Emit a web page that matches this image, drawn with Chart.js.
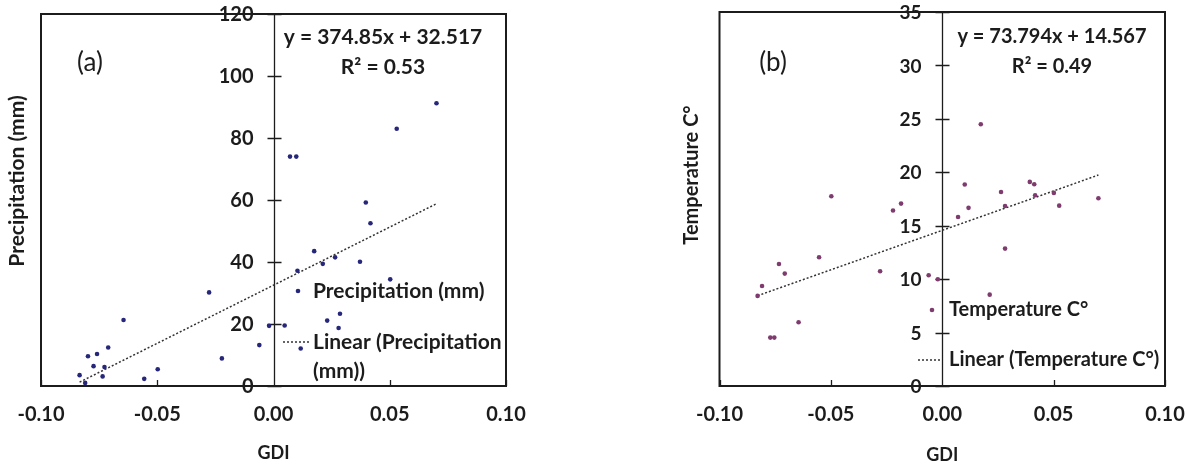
<!DOCTYPE html>
<html>
<head>
<meta charset="utf-8">
<script src="https://cdn.jsdelivr.net/npm/chart.js@4/dist/chart.umd.min.js"></script>
<style>
  html, body { margin: 0; padding: 0; background: #ffffff; }
  body { width: 1187px; height: 466px; position: relative; overflow: hidden; }
  .panel { position: absolute; top: 0; }
  #wrapA { left: 0; width: 600px; height: 466px; }
  #wrapB { left: 600px; width: 640px; height: 466px; }
</style>
</head>
<body>
<div class="panel" id="wrapA"><canvas id="chartA" width="600" height="466"></canvas></div>
<div class="panel" id="wrapB"><canvas id="chartB" width="640" height="466"></canvas></div>
<script>
// ---- data ----
const gdiTicks = [-0.10, -0.05, 0.00, 0.05, 0.10];
const precipTicks = [0, 20, 40, 60, 80, 100, 120];
const tempTicks = [0, 5, 10, 15, 20, 25, 30, 35];

// (a) GDI vs precipitation
const gdiPrecip = [0.0701, 0.0530, 0.0071, 0.0098, 0.0397, 0.0417, 0.0175, 0.0212, 0.0265, 0.0372,
                   0.0103, 0.0502, 0.0286, 0.0231, 0.0280, 0.0048, -0.0019, -0.0061, 0.0117, -0.0277,
                   -0.0645, -0.0222, -0.0498, -0.0556, -0.0711, -0.0759, -0.0798, -0.0774, -0.0727, -0.0735,
                   -0.0834, -0.0810];
const precipMm = [91.2, 83.0, 74.0, 74.0, 59.2, 52.5, 43.5, 39.4, 41.5, 40.1,
                  37.2, 34.4, 23.3, 21.1, 18.7, 19.5, 19.4, 13.2, 12.1, 30.2,
                  21.3, 8.9, 5.4, 2.3, 12.4, 10.3, 9.6, 6.4, 6.1, 3.1,
                  3.5, 1.0];
const precipFit = { slope: 374.85, intercept: 32.517, r2: 0.53 };

// (b) GDI vs temperature
const gdiTemp = [0.0173, 0.0101, 0.0264, 0.0393, 0.0413, 0.0417, 0.0501, 0.0525, 0.0701, 0.0282,
                 0.0118, 0.0071, 0.0282, 0.0213, -0.0020, -0.0061, -0.0185, -0.0221, -0.0279, -0.0498,
                 -0.0553, -0.0733, -0.0707, -0.0809, -0.0829, -0.0645, -0.0772, -0.0754];
const tempC = [24.5, 18.85, 18.16, 19.1, 18.88, 17.85, 18.07, 16.88, 17.57, 16.85,
               16.67, 15.82, 12.86, 8.55, 9.99, 10.36, 17.07, 16.42, 10.74, 17.76,
               12.05, 11.42, 10.52, 9.36, 8.43, 5.96, 4.53, 4.53];
const tempFit = { slope: 73.794, intercept: 14.567, r2: 0.49 };

// ---- styling ----
const FONT = 'Lato, "Open Sans", "Liberation Sans", sans-serif';
const INK = '#1c1c1c';

function fmtGdi(v) {
  if (Math.abs(v) < 1e-9) return '0.00';
  return v.toFixed(2);
}

function fitLine(xs, fit) {
  const lo = Math.min(...xs), hi = Math.max(...xs);
  return [lo, hi].map(x => ({ x: x, y: fit.slope * x + fit.intercept }));
}

// frame, value axis through GDI = 0, annotations and legend
const panelDecor = {
  id: 'panelDecor',
  beforeDatasetsDraw(chart, args, o) {
    const { ctx, chartArea: a, scales: { x, y } } = chart;
    ctx.save();
    ctx.strokeStyle = INK;
    // outer box
    ctx.lineWidth = 2;
    ctx.strokeRect(a.left, a.top, a.right - a.left, a.bottom - a.top);
    // vertical axis at GDI = 0 with crossing ticks
    const x0 = Math.round(x.getPixelForValue(0)) + 0.5;
    ctx.lineWidth = 1.3;
    ctx.beginPath();
    ctx.moveTo(x0, a.top);
    ctx.lineTo(x0, a.bottom);
    y.ticks.forEach(t => {
      const py = Math.round(y.getPixelForValue(t.value)) + 0.5;
      ctx.moveTo(x0 - 7, py);
      ctx.lineTo(x0 + 7, py);
    });
    // x ticks pointing inwards from the bottom
    x.ticks.forEach(t => {
      const px = Math.round(x.getPixelForValue(t.value)) + 0.5;
      ctx.moveTo(px, a.bottom);
      ctx.lineTo(px, a.bottom - 6);
    });
    ctx.stroke();
    // value labels, right-aligned against the axis
    ctx.fillStyle = INK;
    ctx.font = '700 ' + o.tickSize + 'px ' + FONT;
    ctx.textAlign = 'right';
    ctx.textBaseline = 'middle';
    y.ticks.forEach(t => {
      ctx.fillText(String(t.value), x0 - 21, y.getPixelForValue(t.value) + 1);
    });
    ctx.restore();
  },
  afterDraw(chart, args, o) {
    const { ctx } = chart;
    ctx.save();
    ctx.fillStyle = INK;
    ctx.textBaseline = 'middle';
    // panel tag
    ctx.font = '400 26px ' + FONT;
    ctx.textAlign = 'center';
    ctx.fillText(o.tag, o.tagPos[0], o.tagPos[1]);
    // regression equation
    ctx.font = '700 ' + o.textSize + 'px ' + FONT;
    ctx.fillText(o.equation, o.eqPos[0], o.eqPos[1]);
    ctx.fillText(o.rsq, o.eqPos[0], o.eqPos[1] + 30);
    // y axis title
    ctx.save();
    ctx.translate(o.yTitlePos[0], o.yTitlePos[1]);
    ctx.rotate(-Math.PI / 2);
    ctx.fillText(o.yTitle, 0, 0);
    ctx.restore();
    // legend
    const L = o.legend;
    ctx.textAlign = 'left';
    ctx.fillStyle = o.pointColor;
    ctx.beginPath();
    ctx.arc(L.markX, L.row1, 2.3, 0, Math.PI * 2);
    ctx.fill();
    ctx.fillStyle = INK;
    ctx.fillText(L.label1, L.textX, L.row1);
    ctx.strokeStyle = '#333333';
    ctx.lineWidth = 1.5;
    ctx.setLineDash([2, 2]);
    ctx.beginPath();
    ctx.moveTo(L.lineX0, L.row2);
    ctx.lineTo(L.lineX1, L.row2);
    ctx.stroke();
    ctx.setLineDash([]);
    L.label2.forEach((s, i) => ctx.fillText(s, L.textX, L.row2 + i * 29));
    ctx.restore();
  }
};

function makeChart(id, cfg) {
  return new Chart(document.getElementById(id), {
    data: {
      datasets: [
        {
          type: 'scatter',
          label: cfg.seriesName,
          data: cfg.xs.map((v, i) => ({ x: v, y: cfg.ys[i] })),
          backgroundColor: cfg.pointColor,
          borderColor: cfg.pointColor,
          pointRadius: 2.3,
          pointBorderWidth: 0,
          order: 1
        },
        {
          type: 'line',
          label: 'Linear (' + cfg.seriesName + ')',
          data: fitLine(cfg.xs, cfg.fit),
          borderColor: '#333333',
          borderWidth: 1.5,
          borderDash: [2, 2],
          pointRadius: 0,
          fill: false,
          order: 2
        }
      ]
    },
    options: {
      responsive: false,
      animation: false,
      devicePixelRatio: 1,
      layout: { padding: cfg.padding },
      scales: {
        x: {
          type: 'linear',
          position: 'bottom',
          min: gdiTicks[0],
          max: gdiTicks[gdiTicks.length - 1],
          afterBuildTicks: s => { s.ticks = gdiTicks.map(v => ({ value: v })); },
          afterFit: s => { s.height = 80; },
          ticks: {
            color: INK,
            padding: 17,
            maxRotation: 0,
            font: { family: FONT, size: 20, weight: '700' },
            callback: v => fmtGdi(v)
          },
          grid: { display: false, drawTicks: false },
          border: { display: true, color: INK, width: 2 },
          title: {
            display: true,
            text: 'GDI',
            color: INK,
            font: { family: FONT, size: 18, weight: '700' },
            padding: { top: 4, bottom: cfg.gdiTitleBottom }
          }
        },
        y: {
          type: 'linear',
          display: false,
          min: cfg.yTicks[0],
          max: cfg.yTicks[cfg.yTicks.length - 1],
          afterBuildTicks: s => { s.ticks = cfg.yTicks.map(v => ({ value: v })); }
        }
      },
      plugins: {
        legend: { display: false },
        tooltip: { enabled: false },
        panelDecor: cfg.decor
      }
    },
    plugins: [panelDecor]
  });
}

makeChart('chartA', {
  seriesName: 'Precipitation (mm)',
  xs: gdiPrecip, ys: precipMm, fit: precipFit, yTicks: precipTicks,
  pointColor: '#26267a',
  padding: { left: 41, right: 94, top: 14, bottom: 0 },
  gdiTitleBottom: 2,
  decor: {
    tag: '(a)', tagPos: [90, 63],
    tickSize: 20, textSize: 21,
    equation: 'y = ' + precipFit.slope + 'x + ' + precipFit.intercept,
    rsq: 'R² = ' + precipFit.r2.toFixed(2),
    eqPos: [383, 37],
    yTitle: 'Precipitation (mm)', yTitlePos: [17, 181],
    pointColor: '#26267a',
    legend: {
      markX: 298, textX: 313, row1: 291, row2: 342,
      lineX0: 283, lineX1: 311,
      label1: 'Precipitation (mm)',
      label2: ['Linear (Precipitation', '(mm))']
    }
  }
});

makeChart('chartB', {
  seriesName: 'Temperature C°',
  xs: gdiTemp, ys: tempC, fit: tempFit, yTicks: tempTicks,
  pointColor: '#7e3c6e',
  padding: { left: 119.5, right: 75, top: 12, bottom: 0 },
  gdiTitleBottom: 0,
  decor: {
    tag: '(b)', tagPos: [173, 63],
    tickSize: 19, textSize: 20,
    equation: 'y = ' + tempFit.slope + 'x + ' + tempFit.intercept,
    rsq: 'R² = ' + tempFit.r2.toFixed(2),
    eqPos: [452, 37],
    yTitle: 'Temperature C°', yTitlePos: [92, 175],
    pointColor: '#7e3c6e',
    legend: {
      markX: 332, textX: 349, row1: 310, row2: 360,
      lineX0: 318, lineX1: 342,
      label1: 'Temperature C°',
      label2: ['Linear (Temperature C°)']
    }
  }
});
</script>
</body>
</html>
